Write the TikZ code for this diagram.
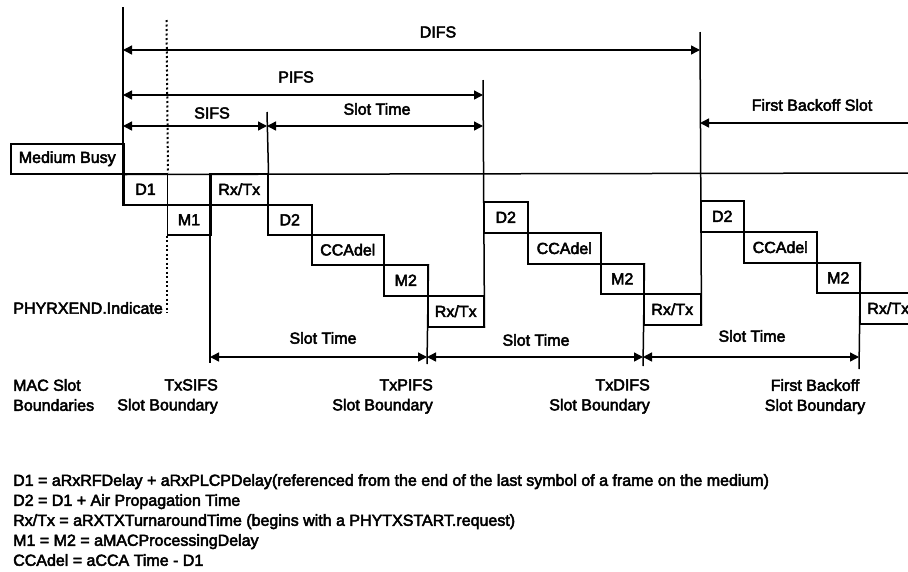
\documentclass[tikz,border=0pt]{standalone}
\usepackage{fontspec}
\usetikzlibrary{arrows.meta}
\newfontfamily\dfont{Liberation Sans}[FakeBold=3]
\tikzset{
    cell/.style={rectangle, draw=black, line width=1.5pt, anchor=north west, inner sep=0pt, font=\dfont\fontsize{16}{20}\selectfont},
    lbl/.style={inner sep=0pt, font=\dfont\fontsize{16}{20}\selectfont},
    bar/.style={line width=1.5pt},
    dots/.style={line width=2pt, dash pattern=on 2pt off 2.5pt},
    dim/.style={line width=1.4pt, {Triangle[length=9pt,width=9pt]}-{Triangle[length=9pt,width=9pt]}},
    dimleft/.style={line width=1.4pt, -{Triangle[length=9pt,width=9pt]}}
}

\begin{document}
\begin{tikzpicture}[x=1pt, y=-1pt]
    \useasboundingbox (0,0) rectangle (908,571);

    % medium and the slot cells
    \node (busy) [cell, minimum width=113pt, minimum height=30pt] at (10,143) {Medium Busy};
    \node (d1) [cell, minimum width=43.5pt, minimum height=31pt] at (123,173) {D1};
    \node (m1) [cell, minimum width=43.5pt, minimum height=30pt] at (166.5,204) {M1};
    \node (rt1) [cell, minimum width=57pt, minimum height=31pt] at (210,173) {Rx/Tx};
    \node (d2a) [cell, minimum width=44pt, minimum height=30pt] at (267,204) {D2};
    \node (cca1) [cell, minimum width=72pt, minimum height=30pt] at (311,234) {CCAdel};
    \node (m2a) [cell, minimum width=44pt, minimum height=31pt] at (383,264) {M2};
    \node (rt2) [cell, minimum width=56pt, minimum height=31pt] at (427,295) {Rx/Tx};
    \node (d2b) [cell, minimum width=44pt, minimum height=31pt] at (483,201) {D2};
    \node (cca2) [cell, minimum width=73pt, minimum height=31pt] at (527,232) {CCAdel};
    \node (m2b) [cell, minimum width=43pt, minimum height=30pt] at (600,263) {M2};
    \node (rt3) [cell, minimum width=57pt, minimum height=31pt] at (643,293) {Rx/Tx};
    \node (d2c) [cell, minimum width=43pt, minimum height=31pt] at (700,200) {D2};
    \node (cca3) [cell, minimum width=73pt, minimum height=31pt] at (743,231) {CCAdel};
    \node (m2c) [cell, minimum width=43pt, minimum height=30pt] at (816,262) {M2};
    \node (rt4) [cell, minimum width=57pt, minimum height=31pt] at (859,292) {Rx/Tx};

    % ends of the boundary lines
    \coordinate (top0) at (123,7);
    \coordinate (dtop) at (166.5,20);
    \coordinate (dbot) at (166.5,313);
    \coordinate (mend) at (912,173);
    \coordinate (sifsbot) at (210,363);
    \coordinate (sifstop) at (267,112);
    \coordinate (pifsbot) at (427,364);
    \coordinate (pifstop) at (483,80);
    \coordinate (difsbot) at (643,366);
    \coordinate (difstop) at (700,32);
    \coordinate (backbot) at (859,369);

    \draw [bar] (top0) -- (d1.south west);
    \draw [bar] (busy.south east) -- (mend);
    \draw [dots] (dtop) -- (d1.north east);
    \draw [dots] (m1.south west) -- (dbot);
    \draw [bar] (rt1.north west) -- (sifsbot);
    \draw [bar] (sifstop) -- (rt1.north east);
    \draw [bar] (m2a.north east) -- (pifsbot);
    \draw [bar] (pifstop) -- (rt2.south east);
    \draw [bar] (m2b.north east) -- (difsbot);
    \draw [bar] (difstop) -- (rt3.south east);
    \draw [bar] (m2c.north east) -- (backbot);

    % interframe spaces
    \coordinate (difsL) at (123,50);
    \coordinate (difsR) at (700,50);
    \coordinate (pifsL) at (123,95);
    \coordinate (pifsR) at (483,95);
    \coordinate (sifsL) at (123,126);
    \coordinate (sifsR) at (267,126);
    \coordinate (slotR) at (483,126);
    \coordinate (backL) at (700,123);
    \coordinate (backR) at (912,123);
    \draw [dim] (difsL) -- (difsR);
    \draw [dim] (pifsL) -- (pifsR);
    \draw [dim] (sifsL) -- (sifsR);
    \draw [dim] (sifsR) -- (slotR);
    \draw [dimleft] (backR) -- (backL);
    \node (difs) [lbl] at (438,32) {DIFS};
    \node (pifs) [lbl] at (296,77) {PIFS};
    \node (sifs) [lbl] at (212,113) {SIFS};
    \node (slot) [lbl] at (377,109) {Slot Time};
    \node (back) [lbl] at (812,105) {First Backoff Slot};

    % MAC slot boundaries
    \coordinate (txsifs) at (210,357);
    \coordinate (txpifs) at (427,357);
    \coordinate (txdifs) at (643,357);
    \coordinate (txback) at (859,357);
    \draw [dim] (txsifs) -- (txpifs);
    \draw [dim] (txpifs) -- (txdifs);
    \draw [dim] (txdifs) -- (txback);
    \node (slot1) [lbl] at (323,338) {Slot Time};
    \node (slot2) [lbl] at (536,340) {Slot Time};
    \node (slot3) [lbl] at (752,336) {Slot Time};

    \node (phy) [lbl, anchor=east] at (163,308) {PHYRXEND.Indicate};
    \node (mac) [lbl, anchor=north west, align=left] at (13,379) {MAC Slot\\Boundaries};
    \node (bsifs) [lbl, anchor=north east, align=right] at (218,379) {TxSIFS\\Slot Boundary};
    \node (bpifs) [lbl, anchor=north east, align=right] at (433,379) {TxPIFS\\Slot Boundary};
    \node (bdifs) [lbl, anchor=north east, align=right] at (650,379) {TxDIFS\\Slot Boundary};
    \node (bback) [lbl, anchor=north, align=center] at (815,379) {First Backoff\\Slot Boundary};

    % legend
    \node (key) [lbl, anchor=north west, align=left] at (13,474) {D1 = aRxRFDelay + aRxPLCPDelay(referenced from the end of the last symbol of a frame on the medium)\\
        D2 = D1 + Air Propagation Time\\
        Rx/Tx = aRXTXTurnaroundTime (begins with a PHYTXSTART.request)\\
        M1 = M2 = aMACProcessingDelay\\
        CCAdel = aCCA Time - D1};
\end{tikzpicture}
\end{document}
